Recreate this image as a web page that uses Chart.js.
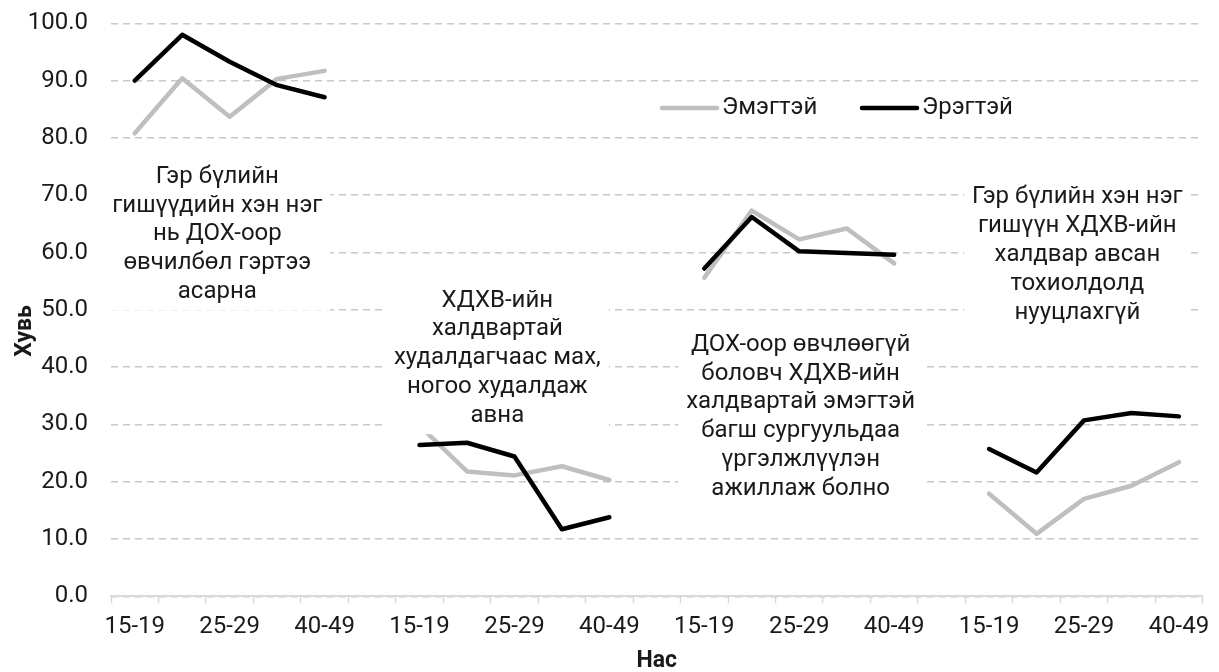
<!DOCTYPE html>
<html>
<head>
<meta charset="utf-8">
<script src="https://cdn.jsdelivr.net/npm/chart.js@4.4.0/dist/chart.umd.min.js"></script>
<style>
  body { margin: 0; background: #fff; }
  #wrap { width: 1219px; height: 672px; }
</style>
</head>
<body>
<div id="wrap"><canvas id="chart" width="1219" height="672"></canvas></div>
<script>
// age groups repeated for each statement, blank slot between groups
const ageGroups = ["15-19", "20-24", "25-29", "30-39", "40-49"]
const groupCount = 4

const femaleValues = [
    80.8, 90.4, 83.7, 90.3, 91.7, null,
    29.8, 21.8, 21.1, 22.7, 20.3, null,
    55.6, 67.3, 62.3, 64.2, 58.1, null,
    17.9, 10.9, 17.0, 19.3, 23.4
]
const maleValues = [
    90.0, 98.0, 93.3, 89.2, 87.1, null,
    26.4, 26.8, 24.4, 11.7, 13.8, null,
    57.2, 66.2, 60.2, 59.9, 59.6, null,
    25.7, 21.6, 30.7, 32.0, 31.4
]
const seriesNames = ["Эмэгтэй", "Эрэгтэй"]
const yTitle = "Хувь"
const xTitle = "Нас"

const statements = [
    ["Гэр бүлийн", "гишүүдийн хэн нэг", "нь ДОХ-оор", "өвчилбөл гэртээ", "асарна"],
    ["ХДХВ-ийн", "халдвартай", "худалдагчаас мах,", "ногоо худалдаж", "авна"],
    ["ДОХ-оор өвчлөөгүй", "боловч ХДХВ-ийн", "халдвартай эмэгтэй", "багш сургуульдаа", "үргэлжлүүлэн", "ажиллаж болно"],
    ["Гэр бүлийн хэн нэг", "гишүүн ХДХВ-ийн", "халдвар авсан", "тохиолдолд", "нууцлахгүй"]
]
// where each statement sits: category index (fractional) and y value of first line
const statementAnchors = [[1.74, 73.2], [7.64, 51.6], [14.03, 43.9], [19.86, 69.6]]

const labels = []
for (let g = 0; g < groupCount; g++) {
    ageGroups.forEach(a => labels.push(a))
    if (g < groupCount - 1) labels.push("")
}

const FONT = "Roboto, 'Liberation Sans', sans-serif"
const GRAY = "#bfbfbf"
const BLACK = "#000000"
const TEXT = "#1a1a1a"

const notesPlugin = {
    id: "notes",
    afterDatasetsDraw(chart) {
        const ctx = chart.ctx
        const xs = chart.scales.x
        const ys = chart.scales.y
        const lh = 28.8
        ctx.save()
        ctx.font = "24px " + FONT
        ctx.textAlign = "center"
        ctx.textBaseline = "middle"
        statements.forEach((lines, i) => {
            const cx = xs.getPixelForValue(statementAnchors[i][0])
            const y0 = ys.getPixelForValue(statementAnchors[i][1])
            let w = 0
            lines.forEach(l => { w = Math.max(w, ctx.measureText(l).width) })
            ctx.fillStyle = "#ffffff"
            ctx.fillRect(cx - w / 2 - 8, y0 - lh / 2 - 4, w + 16, lh * lines.length + 8)
            ctx.fillStyle = TEXT
            lines.forEach((l, k) => ctx.fillText(l, cx, y0 + k * lh))
        })

        // legend
        const items = [[662, GRAY, seriesNames[0]], [862, BLACK, seriesNames[1]]]
        const ly = 108
        items.forEach(([lx, col, name]) => {
            ctx.strokeStyle = col
            ctx.lineWidth = 4.5
            ctx.lineCap = "round"
            ctx.beginPath()
            ctx.moveTo(lx, ly)
            ctx.lineTo(lx + 55, ly)
            ctx.stroke()
            ctx.fillStyle = TEXT
            ctx.textAlign = "left"
            ctx.fillText(name, lx + 60, ly)
        })

        // y axis title, a bit below the middle as in the original
        ctx.translate(25, 331)
        ctx.rotate(-Math.PI / 2)
        ctx.textAlign = "center"
        ctx.font = "bold 23px " + FONT
        ctx.fillText(yTitle, 0, 0)
        ctx.restore()
    }
}

new Chart(document.getElementById("chart"), {
    type: "line",
    data: {
        labels: labels,
        datasets: [
            {
                label: seriesNames[0],
                data: femaleValues,
                borderColor: GRAY,
                borderWidth: 4.5,
                pointRadius: 0,
                tension: 0,
                spanGaps: false,
                borderCapStyle: "round",
                borderJoinStyle: "round",
                order: 1
            },
            {
                label: seriesNames[1],
                data: maleValues,
                borderColor: BLACK,
                borderWidth: 4.5,
                pointRadius: 0,
                tension: 0,
                spanGaps: false,
                borderCapStyle: "round",
                borderJoinStyle: "round",
                order: 0
            }
        ]
    },
    options: {
        responsive: false,
        animation: false,
        devicePixelRatio: 1,
        layout: { padding: { top: 23.3, right: 8, bottom: 0, left: 0 } },
        plugins: {
            legend: { display: false },
            tooltip: { enabled: false }
        },
        scales: {
            x: {
                offset: true,
                grid: {
                    offset: true,
                    drawOnChartArea: false,
                    tickLength: 7,
                    tickWidth: 1.5,
                    tickColor: "#d9d9d9"
                },
                border: { color: "#d9d9d9", width: 2 },
                ticks: {
                    autoSkip: false,
                    maxRotation: 0,
                    padding: 9.6,
                    color: TEXT,
                    font: { family: FONT, size: 24 },
                    callback: function (v, i) {
                        return i % 2 === 0 ? this.getLabelForValue(v) : ""
                    }
                },
                title: {
                    display: true,
                    text: xTitle,
                    color: TEXT,
                    font: { family: FONT, size: 23, weight: "bold", lineHeight: 0.9 },
                    padding: { top: 0, bottom: 0 }
                }
            },
            y: {
                min: 0,
                max: 100,
                afterFit(scale) { scale.width = 111 },
                grid: {
                    color: "#c8c8c8",
                    lineWidth: 1.5,
                    drawTicks: true,
                    tickLength: 20,
                    tickColor: "rgba(0,0,0,0)"
                },
                border: { display: false, dash: [7, 5] },
                ticks: {
                    stepSize: 10,
                    padding: 3,
                    color: TEXT,
                    font: { family: FONT, size: 24 },
                    callback: v => v.toFixed(1)
                }
            }
        }
    },
    plugins: [notesPlugin]
})
</script>
</body>
</html>
